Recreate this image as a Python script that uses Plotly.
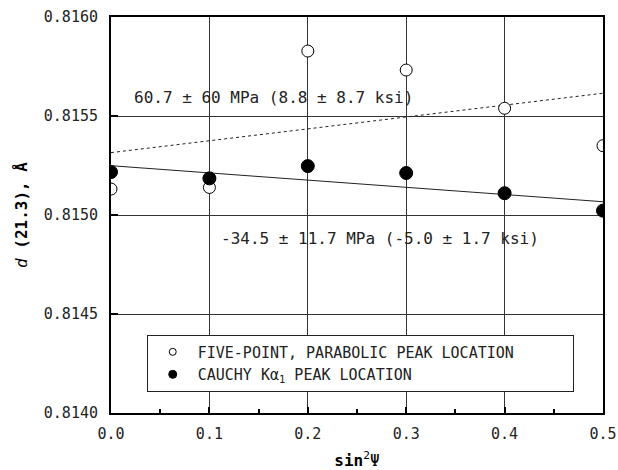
import plotly.graph_objects as go

# ---- data ----
sin2psi = [0.0, 0.1, 0.2, 0.3, 0.4, 0.5]
d_five_point = [0.815131, 0.815139, 0.815828, 0.815732, 0.815539, 0.815350]
d_cauchy = [0.815217, 0.815185, 0.815247, 0.815212, 0.815110, 0.815022]

fit_x = [0.0, 0.5]
fit_five_point = [0.815315, 0.815615]
fit_cauchy = [0.815249, 0.815067]

x_ticks = [0.0, 0.1, 0.2, 0.3, 0.4, 0.5]
x_tick_labels = ["0.0", "0.1", "0.2", "0.3", "0.4", "0.5"]
y_ticks = [0.8140, 0.8145, 0.8150, 0.8155, 0.8160]
y_tick_labels = ["0.8140", "0.8145", "0.8150", "0.8155", "0.8160"]

label_five = "FIVE-POINT, PARABOLIC PEAK LOCATION"
label_cauchy = "CAUCHY K\u03b1<sub>1</sub> PEAK LOCATION"
note_five = "60.7 \u00b1 60 MPa (8.8 \u00b1 8.7 ksi)"
note_cauchy = "-34.5 \u00b1 11.7 MPa (-5.0 \u00b1 1.7 ksi)"

FONT = "DejaVu Sans Mono"
FS = 15
FS_TEXT = 16

fig = go.Figure()

# fit lines
fig.add_trace(go.Scatter(x=fit_x, y=fit_five_point, mode="lines",
                         line=dict(color="#222", width=1, dash="dot"),
                         showlegend=False, hoverinfo="skip"))
fig.add_trace(go.Scatter(x=fit_x, y=fit_cauchy, mode="lines",
                         line=dict(color="#222", width=1),
                         showlegend=False, hoverinfo="skip"))

# data points
fig.add_trace(go.Scatter(x=sin2psi, y=d_five_point, mode="markers",
                         marker=dict(symbol="circle", size=12, color="white",
                                     line=dict(color="black", width=1)),
                         showlegend=False))
fig.add_trace(go.Scatter(x=sin2psi, y=d_cauchy, mode="markers",
                         marker=dict(symbol="circle", size=13, color="black",
                                     line=dict(color="black", width=1)),
                         showlegend=False))

# legend-only entries (small symbols, like the reference)
fig.add_trace(go.Scatter(x=[None], y=[None], mode="markers", name=label_five,
                         marker=dict(symbol="circle", size=7, color="white",
                                     line=dict(color="black", width=1))))
fig.add_trace(go.Scatter(x=[None], y=[None], mode="markers", name=label_cauchy,
                         marker=dict(symbol="circle", size=8, color="black",
                                     line=dict(color="black", width=1))))

fig.add_annotation(x=0.021, y=0.815591, text=note_five, showarrow=False,
                   xanchor="left", yanchor="middle",
                   font=dict(family=FONT, size=FS_TEXT, color="#222"))
fig.add_annotation(x=0.1098, y=0.814879, text=note_cauchy, showarrow=False,
                   xanchor="left", yanchor="middle",
                   font=dict(family=FONT, size=FS_TEXT, color="#222"))

fig.update_layout(
    width=618, height=470,
    margin=dict(l=111, r=15, t=17, b=57, autoexpand=False),
    paper_bgcolor="white", plot_bgcolor="white",
    font=dict(family=FONT, size=FS, color="#222"),
    showlegend=True,
    legend=dict(x=0.0726, y=0.198, xanchor="left", yanchor="top",
                orientation="h",
                bgcolor="white", bordercolor="#222", borderwidth=1,
                font=dict(family=FONT, size=FS, color="#222"),
                itemwidth=40, tracegroupgap=0, entrywidth=370,
                entrywidthmode="pixels"),
    xaxis=dict(range=[0, 0.5], tickmode="array", tickvals=x_ticks,
               ticktext=x_tick_labels, automargin=False,
               showgrid=True, gridcolor="#333", gridwidth=1,
               showline=True, linecolor="black", linewidth=2, mirror=True,
               ticks="inside", ticklen=6, tickwidth=2, tickcolor="black",
               ticklabelstandoff=6,
               minor=dict(dtick=0.05, ticks="inside", ticklen=4, tickwidth=2,
                          tickcolor="black", showgrid=False),
               zeroline=False,
               title=dict(text="<b>sin</b><sup>2</sup>\u03a8",
                          font=dict(family=FONT, size=16, color="black"),
                          standoff=14)),
    yaxis=dict(range=[0.8140, 0.8160], tickmode="array", tickvals=y_ticks,
               ticktext=y_tick_labels, automargin=False,
               showgrid=True, gridcolor="#333", gridwidth=1,
               showline=True, linecolor="black", linewidth=2, mirror=True,
               ticks="inside", ticklen=7, tickwidth=2, tickcolor="black",
               ticklabelstandoff=8, zeroline=False,
               title=dict(text="<i>d</i> <b>(21.3), \u00c5</b>",
                          font=dict(family=FONT, size=16, color="black"),
                          standoff=12)),
)

fig.write_html("out.html")
